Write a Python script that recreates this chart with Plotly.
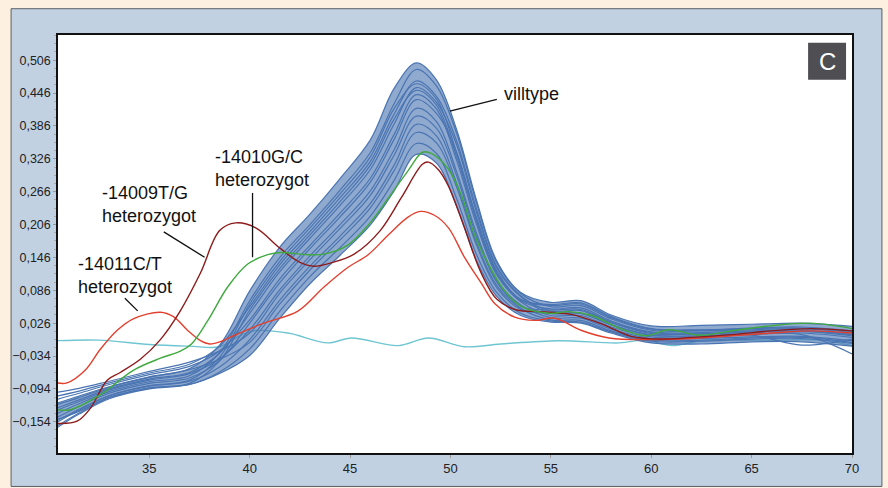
import plotly.graph_objects as go

# ---------------- data ----------------
X_TICKS = [35, 40, 45, 50, 55, 60, 65, 70]
Y_TICKS = [0.506, 0.446, 0.386, 0.326, 0.266, 0.206, 0.146, 0.086, 0.026, -0.034, -0.094, -0.154]

# villtype (wild type) curves, sampled on a common temperature grid
X_BLUE = [30.4, 31.5, 33, 35, 37, 38.5, 40, 41.5, 43, 44.5, 46, 47.2, 48.3, 49.3,
          50.3, 51.3, 52.3, 53.5, 55, 56.5, 58, 60, 62.5, 65, 67.5, 70]

BLUE_01 = [-0.120, -0.107, -0.090, -0.072, -0.057, -0.014, 0.085, 0.165, 0.225, 0.290, 0.360, 0.455, 0.501,
           0.470, 0.380, 0.250, 0.140, 0.082, 0.064, 0.067, 0.041, 0.021, 0.022, 0.024, 0.026, 0.020]
BLUE_02 = [-0.139, -0.121, -0.099, -0.081, -0.070, -0.028, 0.067, 0.146, 0.206, 0.269, 0.337, 0.427, 0.489,
           0.459, 0.373, 0.245, 0.137, 0.080, 0.056, 0.058, 0.034, 0.013, 0.012, 0.014, 0.016, 0.009]
BLUE_03 = [-0.107, -0.098, -0.083, -0.065, -0.049, -0.016, 0.056, 0.133, 0.193, 0.255, 0.321, 0.408, 0.468,
           0.440, 0.359, 0.234, 0.130, 0.076, 0.048, 0.049, 0.027, 0.007, 0.006, 0.009, 0.011, 0.003]
BLUE_04 = [-0.152, -0.131, -0.106, -0.088, -0.078, -0.036, 0.061, 0.139, 0.200, 0.262, 0.329, 0.418, 0.463,
           0.435, 0.338, 0.217, 0.121, 0.069, 0.060, 0.063, 0.038, 0.016, 0.014, 0.017, 0.019, 0.012]
BLUE_05 = [-0.129, -0.114, -0.094, -0.076, -0.064, -0.029, 0.044, 0.120, 0.181, 0.241, 0.306, 0.390, 0.456,
           0.429, 0.352, 0.228, 0.127, 0.074, 0.044, 0.044, 0.023, 0.004, 0.003, 0.006, 0.005, -0.030]
BLUE_06 = [-0.162, -0.138, -0.110, -0.092, -0.084, -0.043, 0.050, 0.126, 0.187, 0.248, 0.314, 0.399, 0.451,
           0.424, 0.331, 0.212, 0.117, 0.067, 0.052, 0.054, 0.030, 0.010, 0.009, 0.012, 0.013, 0.006]
BLUE_07 = [-0.113, -0.102, -0.086, -0.068, -0.053, -0.025, 0.032, 0.107, 0.168, 0.227, 0.290, 0.371, 0.443,
           0.417, 0.324, 0.206, 0.114, 0.065, 0.040, 0.040, 0.019, 0.001, 0.000, 0.004, -0.014, -0.003]
BLUE_08 = [-0.146, -0.126, -0.102, -0.084, -0.074, -0.042, 0.026, 0.100, 0.162, 0.220, 0.283, 0.362, 0.434,
           0.409, 0.338, 0.217, 0.121, 0.069, 0.058, 0.061, 0.036, 0.015, 0.013, 0.016, 0.017, 0.011]
BLUE_09 = [-0.133, -0.117, -0.096, -0.078, -0.066, -0.039, 0.014, 0.087, 0.149, 0.206, 0.267, 0.343, 0.418,
           0.394, 0.303, 0.190, 0.104, 0.059, 0.036, 0.035, 0.015, -0.002, -0.002, 0.001, 0.002, -0.006]
BLUE_10 = [-0.100, -0.093, -0.080, -0.062, -0.045, -0.025, 0.008, 0.081, 0.142, 0.199, 0.259, 0.333, 0.404,
           0.382, 0.296, 0.184, 0.101, 0.057, 0.050, 0.051, 0.028, 0.009, 0.007, 0.010, 0.012, 0.005]
BLUE_11 = [-0.155, -0.133, -0.107, -0.089, -0.080, -0.054, -0.004, 0.068, 0.130, 0.185, 0.244, 0.315, 0.389,
           0.368, 0.282, 0.173, 0.095, 0.053, 0.032, 0.031, 0.012, -0.005, -0.005, -0.001, 0.000, -0.009]
BLUE_12 = [-0.123, -0.110, -0.091, -0.073, -0.059, -0.040, -0.009, 0.061, 0.123, 0.178, 0.236, 0.305, 0.374,
           0.355, 0.275, 0.168, 0.091, 0.051, 0.044, 0.044, 0.023, 0.004, 0.003, 0.006, 0.008, 0.000]
BLUE_13 = [-0.165, -0.140, -0.112, -0.094, -0.086, -0.063, -0.021, 0.048, 0.111, 0.164, 0.221, 0.287, 0.354,
           0.336, 0.254, 0.151, 0.082, 0.044, 0.030, 0.028, 0.010, -0.007, -0.007, -0.003, -0.002, -0.011]
BLUE_14 = [-0.150, -0.135, -0.110, -0.093, -0.086, -0.066, -0.033, 0.035, 0.098, 0.150, 0.205, 0.268, 0.334,
           0.318, 0.240, 0.140, 0.075, 0.040, 0.028, 0.026, 0.008, -0.010, -0.012, -0.008, -0.008, -0.016]

BLUE_SERIES = [BLUE_01, BLUE_02, BLUE_03, BLUE_04, BLUE_05, BLUE_06, BLUE_07,
               BLUE_08, BLUE_09, BLUE_10, BLUE_11, BLUE_12, BLUE_13, BLUE_14]

# -14009T/G heterozygot (dark red)
X_TG = [30.4, 31.4, 32.05, 32.9, 33.55, 34.55, 35.55, 36.55, 37.55, 38.5, 39.3, 40.3, 41.5, 42.5, 43.2,
        44.05, 45.2, 46.5, 47.55, 48.6, 48.9, 49.4, 49.9, 50.7, 51.5, 52.3, 53.3, 54.5, 56, 57.5, 59,
        60.5, 62, 64, 66, 68, 70]
Y_TG = [-0.157, -0.153, -0.130, -0.078, -0.064, -0.040, -0.004, 0.049, 0.118, 0.195, 0.209, 0.200, 0.163,
        0.137, 0.130, 0.136, 0.152, 0.195, 0.255, 0.316, 0.320, 0.306, 0.276, 0.200, 0.120, 0.070, 0.050,
        0.047, 0.042, 0.025, 0.002, -0.003, 0.000, 0.005, 0.012, 0.016, 0.012]

# -14010G/C heterozygot (green)
X_GC = [30.4, 31.05, 32.55, 34.2, 35.55, 36.55, 37.1, 37.9, 38.9, 39.9, 40.9, 41.55, 42.9, 43.7, 44.9,
        45.9, 46.9, 47.9, 48.6, 49.05, 49.9, 50.55, 51.2, 51.9, 52.7, 53.55, 54.9, 55.9, 57.05, 58.4,
        59.7, 60.9, 62.4, 64.2, 65.9, 67.9, 69.2, 70.0]
Y_GC = [-0.132, -0.132, -0.105, -0.060, -0.038, -0.025, -0.012, 0.030, 0.092, 0.134, 0.151, 0.155, 0.151,
        0.152, 0.169, 0.205, 0.254, 0.305, 0.338, 0.336, 0.307, 0.259, 0.187, 0.133, 0.085, 0.056, 0.044,
        0.047, 0.040, 0.017, 0.003, 0.014, 0.004, 0.013, 0.021, 0.026, 0.021, 0.016]

# -14011C/T heterozygot (red)
X_CT = [30.4, 30.9, 31.8, 32.55, 33.4, 34.2, 35.55, 36.2, 36.9, 37.55, 38.0, 38.6, 39.2, 40.7, 42.4,
        43.7, 44.9, 45.9, 46.9, 47.9, 48.5, 49.2, 49.9, 50.7, 51.55, 52.2, 53.2, 54.2, 55.2, 56.5, 57.9,
        59.9, 62, 64, 66, 68, 70]
Y_CT = [-0.083, -0.083, -0.060, -0.022, 0.013, 0.034, 0.046, 0.038, 0.013, -0.006, -0.012, -0.007, 0.003,
        0.026, 0.048, 0.092, 0.128, 0.151, 0.187, 0.220, 0.230, 0.223, 0.200, 0.146, 0.098, 0.062, 0.037,
        0.031, 0.035, 0.013, -0.001, -0.004, -0.002, 0.003, 0.008, 0.012, 0.008]

# flat control curve (cyan)
X_CYAN = [30.4, 32.5, 35.0, 37.0, 38.5, 39.5, 40.2, 41.9, 43.9, 45.05, 47.4, 48.9, 50.7, 52.5, 55.4,
          58.4, 59.7, 61.05, 62.5, 65.9, 68.4, 70.0]
Y_CYAN = [-0.006, -0.005, -0.013, -0.016, -0.017, 0.003, 0.012, 0.008, -0.010, -0.001, -0.015, -0.001,
          -0.017, -0.012, -0.006, -0.010, -0.005, -0.015, -0.006, -0.005, -0.005, -0.015]

LABELS = ["-14011C/T<br>heterozygot", "-14009T/G<br>heterozygot", "-14010G/C<br>heterozygot", "villtype"]

# ---------------- styles ----------------
BLUE = "#4a75b2"
DARKRED = "#8e1b1b"
RED = "#e2402e"
GREEN = "#3fa93f"
CYAN = "#6fc6d2"
PAGE = "#fdf0e1"
FONT = "Liberation Sans, Arial, Helvetica, sans-serif"

fig = go.Figure()

# cyan control first (underneath)
fig.add_trace(go.Scatter(x=X_CYAN, y=Y_CYAN, mode="lines",
                         line=dict(color=CYAN, width=1.4, shape="spline"), hoverinfo="skip"))

# dense band between outermost and innermost wild-type curves
fig.add_trace(go.Scatter(x=X_BLUE, y=BLUE_14, mode="lines",
                         line=dict(color=BLUE, width=1.2, shape="spline"), hoverinfo="skip"))
fig.add_trace(go.Scatter(x=X_BLUE, y=BLUE_01, mode="lines", fill="tonexty",
                         fillcolor="rgba(74,117,178,0.62)",
                         line=dict(color=BLUE, width=1.2, shape="spline"), hoverinfo="skip"))
for ys in BLUE_SERIES[1:-1]:
    fig.add_trace(go.Scatter(x=X_BLUE, y=ys, mode="lines",
                             line=dict(color=BLUE, width=1.2, shape="spline"), hoverinfo="skip"))

fig.add_trace(go.Scatter(x=X_CT, y=Y_CT, mode="lines",
                         line=dict(color=RED, width=1.4, shape="spline"), hoverinfo="skip"))
fig.add_trace(go.Scatter(x=X_TG, y=Y_TG, mode="lines",
                         line=dict(color=DARKRED, width=1.4, shape="spline"), hoverinfo="skip"))
fig.add_trace(go.Scatter(x=X_GC, y=Y_GC, mode="lines",
                         line=dict(color=GREEN, width=1.4, shape="spline"), hoverinfo="skip"))

# background panels
shapes = [
    dict(type="rect", xref="paper", yref="paper", x0=-0.0591, x1=1.0377, y0=-0.08, y1=1.0629,
         fillcolor="#c1d1e2", line=dict(color="#5a5f66", width=1), layer="below"),
    dict(type="rect", xref="paper", yref="paper", x0=0, x1=1, y0=0, y1=1,
         fillcolor="white", line=dict(width=0), layer="below"),
    # "C" badge
    dict(type="rect", xref="paper", yref="paper", x0=0.9447, x1=0.9925, y0=0.8928, y1=0.9814,
         fillcolor="#4f4e53", line=dict(width=0), layer="above"),
    # leader lines
    dict(type="line", xref="x", yref="y", x0=33.78, y0=0.0716, x1=34.42, y1=0.0484,
         line=dict(color="#111", width=1.3)),
    dict(type="line", xref="x", yref="y", x0=35.72, y0=0.1926, x1=37.75, y1=0.1463,
         line=dict(color="#111", width=1.3)),
    dict(type="line", xref="x", yref="y", x0=40.14, y0=0.2637, x1=40.14, y1=0.1463,
         line=dict(color="#111", width=1.3)),
    dict(type="line", xref="x", yref="y", x0=49.97, y0=0.4132, x1=52.31, y1=0.4346,
         line=dict(color="#111", width=1.3)),
]

ann_pos = [(31.34, 0.1134), (32.54, 0.2433), (38.15, 0.3082), (52.56, 0.4452)]
annotations = []
for (ax_, ay_), txt in zip(ann_pos, LABELS):
    annotations.append(dict(x=ax_, y=ay_, xref="x", yref="y", text=txt, showarrow=False,
                            xanchor="left", yanchor="middle", align="left",
                            font=dict(family=FONT, size=18, color="#111")))
annotations.append(dict(x=0.9686, y=0.937, xref="paper", yref="paper", text="C", showarrow=False,
                        xanchor="center", yanchor="middle",
                        font=dict(family=FONT, size=24, color="white")))

fig.update_layout(
    width=888, height=488,
    margin=dict(l=57, r=36, t=35, b=24),
    paper_bgcolor=PAGE,
    plot_bgcolor="rgba(0,0,0,0)",
    showlegend=False,
    separators=",.",
    shapes=shapes,
    annotations=annotations,
    font=dict(family=FONT, size=12, color="#222"),
)
fig.update_xaxes(range=[30.45, 70.0], tickvals=X_TICKS, ticks="outside", ticklen=3, tickcolor="#999",
                 showgrid=False, zeroline=False, showline=True, linecolor="#111", linewidth=1.5,
                 mirror=True, tickfont=dict(family=FONT, size=13, color="#222"))
fig.update_yaxes(range=[-0.211, 0.552], tickvals=Y_TICKS, tickformat=".3f", ticks="outside", ticklen=3,
                 tickcolor="#999", showgrid=False, zeroline=False, showline=True, linecolor="#111",
                 linewidth=1.5, mirror=True, tickfont=dict(family=FONT, size=12.5, color="#222"),
                 minor=dict(ticks="outside", ticklen=2, tickcolor="#aaa", dtick=0.015, tick0=0.506))

fig.write_html(
    "out.html",
    config={"displayModeBar": False},
    post_script=(
        "document.body.style.margin='0';"
        "document.body.style.padding='0';"
        "document.body.style.overflow='hidden';"
        f"document.body.style.background='{PAGE}';"
    ),
)
